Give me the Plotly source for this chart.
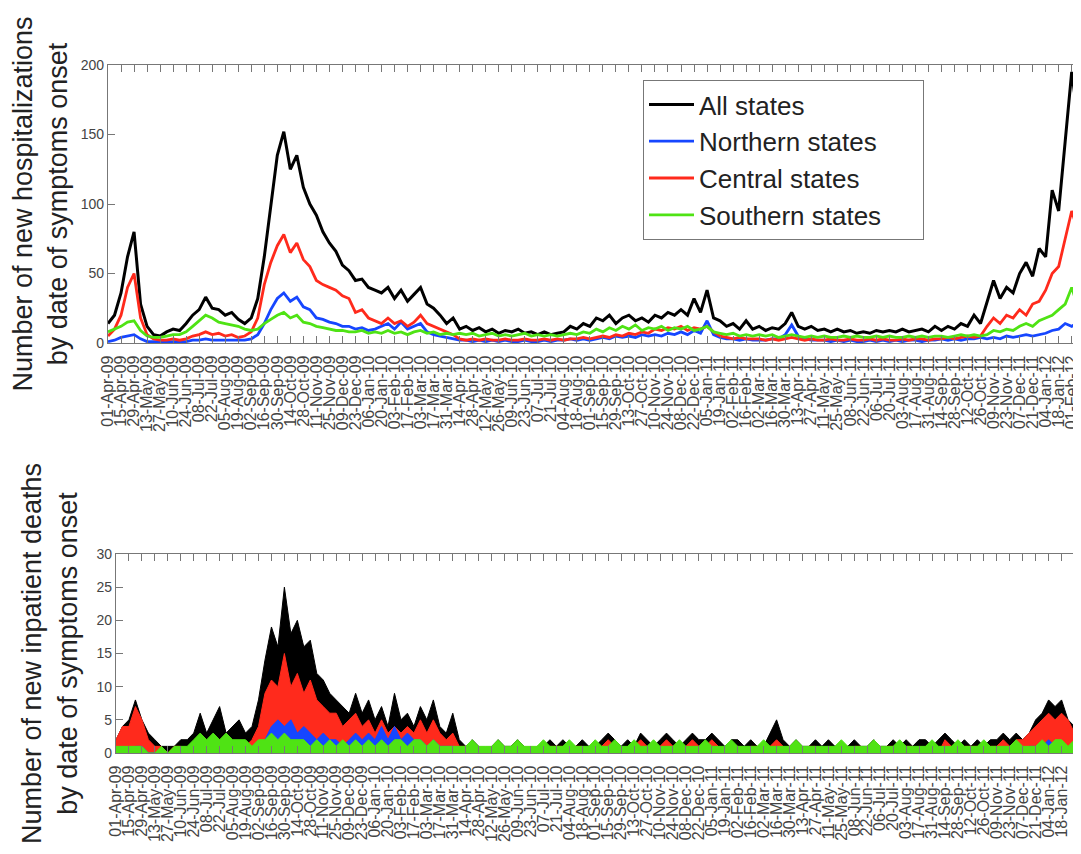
import pandas as pd
import plotly.graph_objects as go

# ---------------- data ----------------
tick_labels = [
    "01-Apr-09", "15-Apr-09", "29-Apr-09", "13-May-09", "27-May-09", "10-Jun-09", "24-Jun-09",
    "08-Jul-09", "22-Jul-09", "05-Aug-09", "19-Aug-09", "02-Sep-09", "16-Sep-09", "30-Sep-09",
    "14-Oct-09", "28-Oct-09", "11-Nov-09", "25-Nov-09", "09-Dec-09", "23-Dec-09",
    "06-Jan-10", "20-Jan-10", "03-Feb-10", "17-Feb-10", "03-Mar-10", "17-Mar-10", "31-Mar-10",
    "14-Apr-10", "28-Apr-10", "12-May-10", "26-May-10", "09-Jun-10", "23-Jun-10", "07-Jul-10",
    "21-Jul-10", "04-Aug-10", "18-Aug-10", "01-Sep-10", "15-Sep-10", "29-Sep-10", "13-Oct-10",
    "27-Oct-10", "10-Nov-10", "24-Nov-10", "08-Dec-10", "22-Dec-10",
    "05-Jan-11", "19-Jan-11", "02-Feb-11", "16-Feb-11", "02-Mar-11", "16-Mar-11", "30-Mar-11",
    "13-Apr-11", "27-Apr-11", "11-May-11", "25-May-11", "08-Jun-11", "22-Jun-11", "06-Jul-11",
    "20-Jul-11", "03-Aug-11", "17-Aug-11", "31-Aug-11", "14-Sep-11", "28-Sep-11", "12-Oct-11",
    "26-Oct-11", "09-Nov-11", "23-Nov-11", "07-Dec-11", "21-Dec-11",
    "04-Jan-12", "18-Jan-12", "01-Feb-12",
]

# weekly observation dates (every 7 days from 01-Apr-2009)
dates = pd.date_range("2009-04-01", periods=150, freq="7D")

# new hospitalizations by date of symptom onset
hosp_all = [
    14, 20, 36, 62, 80, 28, 12, 6, 5, 8,
    10, 9, 14, 20, 24, 33, 25, 24, 20, 22,
    17, 14, 18, 32, 62, 100, 135, 152, 125, 135,
    112, 100, 92, 80, 72, 66, 56, 52, 45, 46,
    40, 38, 36, 40, 32, 38, 30, 35, 40, 28,
    25, 20, 14, 18, 10, 12, 9, 11, 8, 10,
    7, 9, 8, 10, 7, 8, 6, 8, 6, 7,
    8, 12, 10, 14, 12, 18, 16, 20, 14, 18,
    20, 16, 18, 15, 20, 18, 22, 20, 24, 20,
    32, 22, 38, 18, 16, 12, 14, 10, 16, 10,
    12, 9, 11, 10, 14, 22, 12, 10, 12, 9,
    10, 8, 10, 8, 9, 7, 8, 7, 9, 8,
    9, 8, 10, 8, 9, 10, 8, 12, 9, 12,
    10, 14, 12, 20, 14, 30, 45, 32, 40, 36,
    50, 58, 48, 68, 62, 110, 95, 145, 195, 160,
]
hosp_north = [
    1, 2, 4, 5, 6, 3, 1, 1, 1, 1,
    1, 1, 1, 2, 2, 3, 2, 2, 2, 2,
    2, 2, 3, 6, 14, 24, 32, 36, 30, 33,
    26, 24, 18, 17, 15, 14, 12, 12, 10, 11,
    9, 10, 12, 14, 10, 15, 10, 12, 14, 8,
    6, 5, 4, 3, 2, 2, 1, 2, 1, 2,
    1, 2, 1, 1, 2, 1, 1, 2, 1, 2,
    2, 3, 2, 3, 2, 3, 4, 3, 5, 4,
    5, 4, 6, 5, 6, 5, 7, 6, 8, 6,
    9, 7, 16, 6, 4, 3, 3, 2, 3, 2,
    2, 2, 3, 3, 6, 13, 5, 3, 2, 2,
    2, 1, 2, 1, 2, 1, 1, 2, 1, 2,
    1, 2, 1, 2, 2, 1, 2, 2, 3, 2,
    3, 2, 3, 3, 4, 3, 4, 3, 5, 4,
    5, 6, 5, 6, 7, 9, 10, 14, 12, 15,
]
hosp_central = [
    5, 10, 20, 40, 50, 18, 6, 3, 2, 2,
    3, 2, 3, 5, 6, 8, 6, 7, 5, 6,
    4, 5, 8, 18, 42, 58, 70, 78, 65, 72,
    60, 55, 45, 42, 40, 38, 34, 32, 22, 24,
    18, 16, 14, 18, 14, 16, 12, 15, 20, 14,
    12, 10, 8, 6, 3, 2, 3, 2, 3, 2,
    2, 3, 2, 2, 3, 2, 2, 3, 2, 3,
    2, 3, 3, 4, 3, 4, 5, 4, 6, 5,
    7, 6, 8, 7, 10, 9, 11, 10, 12, 9,
    11, 10, 12, 8, 5, 4, 3, 4, 3, 3,
    3, 2, 3, 2, 3, 4, 3, 2, 3, 2,
    2, 3, 2, 2, 3, 2, 2, 3, 2, 3,
    2, 2, 3, 2, 3, 3, 2, 3, 3, 4,
    3, 4, 5, 4, 5, 12, 18, 14, 20, 18,
    24, 20, 28, 30, 38, 50, 55, 75, 95, 80,
]
hosp_south = [
    8, 10, 12, 15, 16, 9, 5, 4, 4, 5,
    6, 6, 8, 12, 16, 20, 18, 15, 14, 13,
    12, 10, 9, 10, 14, 17, 20, 22, 18, 20,
    15, 14, 12, 11, 10, 9, 9, 8, 8, 9,
    7, 8, 7, 9, 7, 8, 6, 8, 9, 7,
    8, 6, 7, 6, 7, 6, 7, 5, 6, 7,
    5, 6, 5, 6, 7, 5, 6, 5, 6, 5,
    6, 7, 6, 8, 7, 10, 8, 11, 9, 12,
    10, 13, 9, 11, 10, 12, 9, 11, 10, 12,
    9, 10, 12, 8, 7, 6, 7, 5, 6, 5,
    6, 5, 6, 4, 5, 6, 5, 4, 5, 4,
    5, 4, 4, 5, 4, 5, 4, 4, 5, 4,
    5, 4, 4, 5, 4, 5, 4, 5, 5, 4,
    5, 6, 5, 6, 5, 6, 9, 8, 10, 9,
    12, 14, 12, 16, 18, 20, 24, 28, 40, 25,
]

# new inpatient deaths by date of symptom onset
death_all = [
    2, 4, 5, 8, 5, 3, 2, 1, 1, 1,
    2, 2, 3, 6, 3, 5, 7, 3, 4, 5,
    3, 4, 8, 14, 19, 16, 25, 18, 20, 16,
    17, 12, 11, 9, 8, 7, 6, 9, 6, 8,
    5, 7, 4, 9, 5, 6, 4, 7, 5, 8,
    4, 3, 6, 2, 1, 2, 1, 0, 1, 2,
    1, 1, 2, 1, 0, 1, 1, 2, 1, 2,
    1, 1, 2, 1, 1, 2, 3, 2, 1, 2,
    1, 3, 2, 1, 2, 3, 2, 1, 2, 3,
    2, 2, 3, 2, 1, 2, 2, 1, 2, 1,
    1, 3, 5, 2, 1, 2, 1, 1, 2, 1,
    2, 1, 1, 1, 2, 1, 1, 2, 1, 1,
    2, 1, 2, 1, 2, 2, 1, 2, 3, 2,
    1, 2, 1, 2, 1, 2, 2, 3, 2, 3,
    2, 3, 5, 6, 8, 7, 8, 5, 4, 3,
]
death_central = [
    2, 4, 4, 7, 5, 2, 1, 1, 0, 1,
    1, 0, 1, 1, 1, 1, 2, 1, 2, 1,
    1, 2, 4, 9, 11, 10, 15, 10, 12, 9,
    11, 8, 7, 6, 6, 4, 5, 6, 4, 5,
    3, 5, 3, 4, 3, 4, 3, 5, 3, 5,
    3, 2, 3, 1, 1, 1, 0, 0, 1, 1,
    0, 1, 1, 0, 0, 1, 0, 1, 1, 1,
    0, 1, 1, 0, 1, 1, 2, 1, 0, 1,
    1, 2, 1, 0, 1, 2, 1, 1, 1, 2,
    1, 1, 2, 1, 0, 1, 1, 0, 1, 1,
    0, 1, 2, 1, 0, 1, 0, 1, 1, 0,
    1, 0, 1, 0, 1, 1, 0, 1, 0, 1,
    1, 0, 1, 1, 0, 1, 1, 0, 2, 1,
    0, 1, 1, 1, 0, 1, 1, 2, 1, 2,
    2, 3, 4, 5, 6, 5, 6, 5, 3, 2,
]
death_north = [
    0, 1, 0, 1, 1, 0, 0, 0, 0, 0,
    0, 0, 1, 0, 0, 0, 1, 0, 0, 1,
    0, 0, 1, 2, 4, 5, 4, 5, 3, 4,
    3, 2, 3, 2, 2, 1, 2, 3, 2, 3,
    2, 4, 2, 4, 2, 3, 2, 2, 1, 2,
    1, 1, 1, 0, 0, 0, 1, 0, 0, 0,
    0, 1, 0, 0, 0, 0, 0, 1, 0, 0,
    0, 0, 1, 0, 0, 0, 1, 0, 0, 0,
    1, 0, 0, 0, 0, 1, 0, 0, 1, 0,
    0, 0, 1, 0, 0, 1, 0, 0, 0, 0,
    0, 0, 1, 0, 0, 0, 0, 0, 0, 0,
    1, 0, 0, 0, 0, 0, 1, 0, 0, 0,
    0, 1, 0, 0, 0, 0, 1, 0, 0, 0,
    0, 0, 1, 0, 0, 0, 1, 0, 1, 1,
    0, 1, 1, 1, 2, 1, 1, 1, 0, 1,
]
death_south = [
    1, 1, 1, 1, 1, 0, 0, 1, 0, 1,
    1, 1, 2, 3, 2, 3, 2, 3, 2, 2,
    2, 1, 2, 2, 3, 2, 3, 2, 2, 2,
    1, 2, 1, 2, 1, 2, 1, 2, 1, 2,
    1, 2, 1, 2, 2, 1, 2, 2, 1, 2,
    1, 1, 1, 1, 1, 2, 1, 1, 1, 2,
    1, 1, 2, 1, 1, 1, 2, 1, 1, 1,
    2, 1, 1, 1, 2, 1, 1, 2, 1, 1,
    2, 1, 1, 2, 1, 1, 1, 2, 1, 1,
    1, 2, 1, 1, 1, 2, 1, 1, 1, 1,
    2, 1, 1, 1, 1, 2, 1, 1, 1, 1,
    1, 1, 2, 1, 1, 1, 1, 2, 1, 1,
    1, 2, 1, 1, 1, 1, 2, 1, 1, 1,
    2, 1, 1, 1, 2, 1, 1, 1, 1, 2,
    1, 1, 1, 2, 1, 2, 2, 1, 2, 1,
]

series_names = ["All states", "Northern states", "Central states", "Southern states"]

# ---------------- styling ----------------
COLORS = {
    "All states": "#000000",
    "Northern states": "#1646ff",
    "Central states": "#ff2a1c",
    "Southern states": "#4fe314",
}
FONT = "Liberation Sans, Arial, Helvetica, sans-serif"
PAD = "\u00a0\u00a0\u00a0\u00a0\u00a0"  # a little room on the right of the legend text

tick_dates = pd.to_datetime(tick_labels, format="%d-%b-%y")

fig = go.Figure()

# top panel: lines (drawn All, Northern, Central, Southern)
top_series = {
    "All states": hosp_all,
    "Northern states": hosp_north,
    "Central states": hosp_central,
    "Southern states": hosp_south,
}
for name in series_names:
    fig.add_trace(go.Scatter(
        x=dates, y=top_series[name], mode="lines", name=name + PAD,
        line=dict(color=COLORS[name], width=3 if name == "All states" else 2.8),
        xaxis="x", yaxis="y", legendgroup=name, showlegend=True,
    ))

# bottom panel: filled areas (black, red, blue, green on top)
bot_series = {
    "All states": death_all,
    "Central states": death_central,
    "Northern states": death_north,
    "Southern states": death_south,
}
for name in ["All states", "Central states", "Northern states", "Southern states"]:
    fig.add_trace(go.Scatter(
        x=dates, y=bot_series[name], mode="lines", name=name,
        line=dict(color=COLORS[name], width=1),
        fill="tozeroy", fillcolor=COLORS[name],
        xaxis="x2", yaxis="y2", showlegend=False,
    ))

# the page body has an 8px margin, so the figure is laid out in page pixels minus 8
OFF = 8
W, H = 1081 - OFF, 854 - OFF
L = 108 - OFF
plot_w = W - L


def fy(page_y):
    return 1 - (page_y - OFF) / H


common_x = dict(
    type="date",
    tickmode="array",
    tickvals=tick_dates,
    ticktext=tick_labels,
    tickangle=-90,
    ticks="inside",
    ticklen=7,
    tickwidth=1,
    tickcolor="#777",
    showline=True,
    linecolor="#777",
    linewidth=1.2,
    mirror="ticks",
    showgrid=False,
    zeroline=False,
    automargin=False,
    ticklabelstandoff=5,
    tickfont=dict(family=FONT, size=16, color="#444"),
)
common_y = dict(
    ticks="inside",
    ticklen=7,
    tickwidth=1,
    tickcolor="#777",
    showline=True,
    linecolor="#777",
    linewidth=1.2,
    mirror="ticks",
    showgrid=False,
    zeroline=False,
    automargin=False,
    tickfont=dict(family=FONT, size=14, color="#444"),
)

fig.update_layout(
    width=W, height=H,
    margin=dict(l=L, r=0, t=0, b=0),
    paper_bgcolor="white",
    plot_bgcolor="white",
    xaxis=dict(common_x, domain=[0, 1], anchor="y",
               range=["2009-04-01", "2012-02-11"]),
    yaxis=dict(common_y, domain=[fy(343), fy(65)], anchor="x",
               range=[0, 200], tickvals=[0, 50, 100, 150, 200],
               title=dict(text="Number of new hospitalizations<br>by date of symptoms onset",
                          font=dict(family=FONT, size=27, color="#222"), standoff=11)),
    xaxis2=dict(common_x, domain=[8 / plot_w, 1], anchor="y2",
                range=["2009-04-01", "2012-02-08"]),
    yaxis2=dict(common_y, domain=[fy(753), fy(554)], anchor="x2",
                range=[0, 30], tickvals=[0, 5, 10, 15, 20, 25, 30],
                title=dict(text="Number of new inpatient deaths<br>by date of symptoms onset",
                           font=dict(family=FONT, size=27, color="#222"), standoff=11)),
    showlegend=True,
    legend=dict(
        x=(643 - 108) / plot_w, y=fy(80), xanchor="left", yanchor="top",
        bgcolor="white", bordercolor="#777", borderwidth=1,
        font=dict(family=FONT, size=26, color="#222"),
        tracegroupgap=0, itemwidth=45,
    ),
)

fig.write_html("out.html")
